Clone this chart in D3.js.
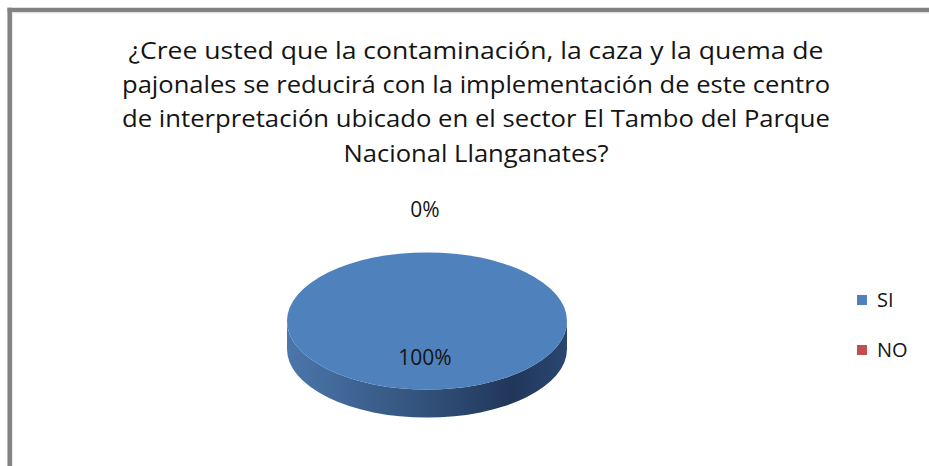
<!DOCTYPE html>
<html><head><meta charset="utf-8">
<script src="https://cdn.jsdelivr.net/npm/d3@7"></script>
<style>
html,body{margin:0;padding:0;background:#fff;overflow:hidden;}
svg{display:block;}
</style></head>
<body>
<svg id="chart" width="929" height="466"></svg>
<script>
const titleLines = [
  "¿Cree usted que la contaminación, la caza y la quema de",
  "pajonales se reducirá con la implementación de este centro",
  "de interpretación ubicado en el sector El Tambo del Parque",
  "Nacional Llanganates?"
];
const categories = ["SI", "NO"];
const values = [100, 0];
const labels = ["100%", "0%"];
const colors = ["#4F81BD", "#C0504D"];

const svg = d3.select("#chart");
const font = "'Open Sans', 'Noto Sans', sans-serif";

// frame (only top & left edges visible)
svg.append("line").attr("x1", 7.5).attr("x2", 929).attr("y1", 10).attr("y2", 10)
  .attr("stroke", "#828282").attr("stroke-width", 4.5);
svg.append("line").attr("x1", 9.7).attr("x2", 9.7).attr("y1", 7.8).attr("y2", 466)
  .attr("stroke", "#828282").attr("stroke-width", 4.5);
svg.append("line").attr("x1", 12).attr("x2", 929).attr("y1", 13).attr("y2", 13)
  .attr("stroke", "#e8e8e8").attr("stroke-width", 1);
svg.append("line").attr("x1", 12.5).attr("x2", 12.5).attr("y1", 12.5).attr("y2", 466)
  .attr("stroke", "#e8e8e8").attr("stroke-width", 1);

// title
const titleWidths = [695, 708, 708, 265];
const titleBase = [59, 93, 127, 162];
svg.append("g").selectAll("text").data(titleLines).join("text")
  .attr("x", 476).attr("y", (d, i) => titleBase[i])
  .attr("text-anchor", "middle")
  .attr("font-family", font).attr("font-size", 23)
  .attr("fill", "#141414")
  .attr("textLength", (d, i) => titleWidths[i])
  .attr("lengthAdjust", "spacingAndGlyphs")
  .text(d => d);

// 3D pie
const cx = 427, cy = 321, R = 140, tilt = 0.49, depth = 28;
const data = categories.map((c, i) => ({cat: c, value: values[i], label: labels[i], color: colors[i]}));
const pie = d3.pie().sort(null).value(d => d.value).startAngle(0).endAngle(2 * Math.PI);
const arcs = pie(data);

const defs = svg.append("defs");
const grad = defs.append("linearGradient").attr("id", "sideGrad")
  .attr("x1", "0%").attr("x2", "100%").attr("y1", "0%").attr("y2", "0%");
grad.append("stop").attr("offset", "0%").attr("stop-color", "#4b76ab");
grad.append("stop").attr("offset", "45%").attr("stop-color", "#34557f");
grad.append("stop").attr("offset", "80%").attr("stop-color", "#21375a");
grad.append("stop").attr("offset", "100%").attr("stop-color", "#2a4670");

const pg = svg.append("g").attr("transform", `translate(${cx},${cy})`);

// side wall (front half)
const ry = R * tilt;
const sidePath = `M${-R},0 A${R},${ry} 0 0 0 ${R},0 L${R},${depth} A${R},${ry} 0 0 1 ${-R},${depth} Z`;
pg.append("path").attr("d", sidePath).attr("fill", "url(#sideGrad)");

// top face
const arc = d3.arc().innerRadius(0).outerRadius(R);
const topFace = pg.append("g").attr("transform", `scale(1,${tilt})`);
topFace.selectAll("path").data(arcs.filter(a => a.endAngle > a.startAngle)).join("path")
  .attr("d", arc).attr("fill", d => d.data.color);

// labels
const inArc = d3.arc().innerRadius(74).outerRadius(74);
const outArc = d3.arc().innerRadius(228).outerRadius(228);
pg.selectAll("text.lbl").data(arcs).join("text").attr("class", "lbl")
  .attr("x", d => (d.value > 0 ? inArc : outArc).centroid(d)[0] - 2)
  .attr("y", d => (d.value > 0 ? inArc : outArc).centroid(d)[1] * tilt)
  .attr("dy", "0.35em")
  .attr("text-anchor", "middle")
  .attr("font-family", font).attr("font-size", 21)
  .attr("fill", "#141414")
  .text(d => d.data.label);

// legend
const legY = d3.scalePoint().domain(categories).range([300, 350]);
const leg = svg.append("g").selectAll("g").data(data).join("g")
  .attr("transform", d => `translate(857,${legY(d.cat)})`);
leg.append("rect").attr("x", 0).attr("y", -5).attr("width", 10).attr("height", 10)
  .attr("fill", d => d.color);
leg.append("text").attr("x", 20).attr("y", 0).attr("dy", "0.35em")
  .attr("font-family", font).attr("font-size", 20).attr("fill", "#141414")
  .text(d => d.cat);
</script>
</body></html>
